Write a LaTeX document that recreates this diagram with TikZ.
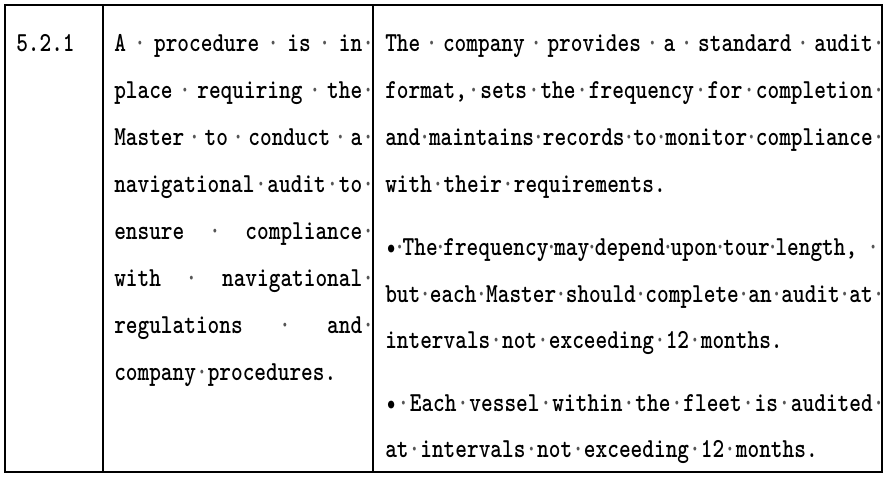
\documentclass[tikz,border=0pt]{standalone}
\usepackage{fontspec}
\newfontfamily\cellfont{lmmonolt10-bold.otf}[FakeStretch=0.81]
\definecolor{markgray}{HTML}{555555}
% space marker: stretchy gap with a centred dot
\newcommand{\sd}{\hskip 4.4pt plus 1fill minus 3.6pt\makebox[0pt]{\textcolor{markgray}{\textperiodcentered}}\hskip 4.4pt plus 1fill minus 3.6pt}
% trailing space marker after a justified line
\newcommand{\td}{\rlap{\hskip 4.4pt\makebox[0pt]{\textcolor{markgray}{\textperiodcentered}}}}
\newcommand{\jline}[2]{\makebox[#1][s]{#2}}
\begin{document}
\begin{tikzpicture}[x=0.75pt, y=-0.75pt,
    txt/.style={anchor=base west, inner sep=0pt, font=\cellfont\fontsize{20.6pt}{20.6pt}\selectfont}]
    \useasboundingbox (0,0) rectangle (888,478);
    \fill[white] (0,0) rectangle (888,478);

    % Table cells
    \draw[line width=1.5pt] (5,5) rectangle (882,472);
    \draw[line width=1.5pt] (103,5) -- (103,472);
    \draw[line width=1.5pt] (372.5,5) -- (372.5,472);

    % Clause number
    \node[txt] (num) at (16,52) {5.2.1};

    % Requirement
    \node[txt] (req1) at (114,52)    {\jline{186pt}{A\sd procedure\sd is\sd in}\td};
    \node[txt] (req2) at (114,98.9)  {\jline{186pt}{place\sd requiring\sd the}\td};
    \node[txt] (req3) at (114,145.8) {\jline{186pt}{Master\sd to\sd conduct\sd a}\td};
    \node[txt] (req4) at (114,192.7) {\jline{186pt}{navigational\sd audit\sd to}\td};
    \node[txt] (req5) at (114,239.6) {\jline{186pt}{ensure\sd compliance}\td};
    \node[txt] (req6) at (114,286.5) {\jline{186pt}{with\sd navigational}\td};
    \node[txt] (req7) at (114,333.4) {\jline{186pt}{regulations\sd and}\td};
    \node[txt] (req8) at (114,380.3) {company\sd procedures.};

    % Evidence
    \node[txt] (evi1) at (385,52)    {\jline{365.6pt}{The\sd company\sd provides\sd a\sd standard\sd audit}\td};
    \node[txt] (evi2) at (385,98.9)  {\jline{365.6pt}{format,\sd sets\sd the\sd frequency\sd for\sd completion}\td};
    \node[txt] (evi3) at (385,145.8) {\jline{365.6pt}{and\sd maintains\sd records\sd to\sd monitor\sd compliance}\td};
    \node[txt] (evi4) at (385,192.7) {with\sd their\sd requirements.};

    \node[txt] (frq1) at (385,255) {\jline{354pt}{\textbullet\sd The\sd frequency\sd may\sd depend\sd upon\sd tour\sd length,}\hskip 12pt\makebox[0pt]{\textcolor{markgray}{\textperiodcentered}}};
    \node[txt] (frq2) at (385,302) {\jline{365.6pt}{but\sd each\sd Master\sd should\sd complete\sd an\sd audit\sd at}\td};
    \node[txt] (frq3) at (385,348) {intervals\sd not\sd exceeding\sd 12\sd months.};

    \node[txt] (ves1) at (385,411) {\jline{365.6pt}{\textbullet\sd Each\sd vessel\sd within\sd the\sd fleet\sd is\sd audited}\td};
    \node[txt] (ves2) at (385,457) {at\sd intervals\sd not\sd exceeding\sd 12\sd months.};
\end{tikzpicture}
\end{document}
